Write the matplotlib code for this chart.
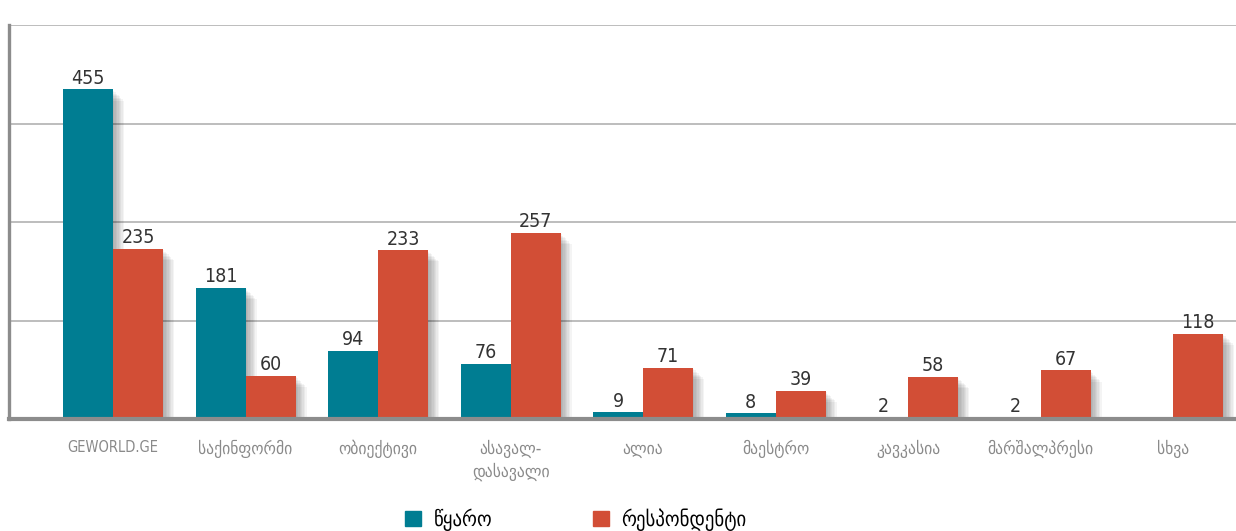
import matplotlib.pyplot as plt
import matplotlib.patheffects as pe
from matplotlib.patches import Patch

# Datos
categories = ['GEWORLD.GE', 'საქინფორმი', 'ობიექტივი', 'ასავალ-\nდასავალი', 'ალია',
              'მაესტრო', 'კავკასია', 'მარშალპრესი', 'სხვა']
source_vals = [455, 181, 94, 76, 9, 8, 2, 2, 0]
respondent_vals = [235, 60, 233, 257, 71, 39, 58, 67, 118]
series_names = ['წყარო', 'რესპონდენტი']

TEAL = '#007d92'
RED = '#d24e36'

plt.rcParams['font.family'] = ['DejaVu Sans']
plt.rcParams['font.stretch'] = 'condensed'

fig = plt.figure(figsize=(12.36, 5.31), dpi=100)
ax = fig.add_axes([0.0069, 0.2109, 0.9931, 0.742])

# sombra suave (varias sombras apiladas)
shadow = [pe.SimplePatchShadow(offset=(d, -d), shadow_rgbFace='black', alpha=0.045)
          for d in (1, 2, 3, 4, 5, 6, 7, 8)] + [pe.Normal()]

w = 0.377
x = list(range(len(categories)))
for i in x:
    if source_vals[i] > 0:
        ax.bar(i - w / 2, source_vals[i], w, color=TEAL, zorder=3, path_effects=shadow)
    ax.bar(i + w / 2, respondent_vals[i], w, color=RED, zorder=3, path_effects=shadow)

# etiquetas de valores
for i in x:
    if source_vals[i] > 0:
        ax.annotate(str(source_vals[i]), (i - w / 2, source_vals[i]), xytext=(0, 4),
                    textcoords='offset points', ha='center', va='baseline',
                    fontsize=14, color='#333333', zorder=5)
    ax.annotate(str(respondent_vals[i]), (i + w / 2, respondent_vals[i]), xytext=(0, 4),
                textcoords='offset points', ha='center', va='baseline',
                fontsize=14, color='#333333', zorder=5)

ax.set_xlim(-0.789, 8.475)
ax.set_ylim(0, 544)
ax.set_yticks([136, 272, 408, 544])
ax.set_yticklabels([])
ax.tick_params(axis='y', length=0)
ax.set_xticks(x)
ax.set_xticklabels(categories, fontsize=12.5, color='#8a8a8a', linespacing=1.3)
ax.get_xticklabels()[0].set_fontsize(10.5)
ax.tick_params(axis='x', length=0, pad=15)

ax.grid(axis='y', color='#b8b8b8', linewidth=1.3, zorder=0)
ax.set_axisbelow(True)
for s in ('top', 'right'):
    ax.spines[s].set_visible(False)
ax.spines['left'].set_color('#8c8c8c')
ax.spines['left'].set_linewidth(2.4)
ax.spines['bottom'].set_color('#8c8c8c')
ax.spines['bottom'].set_linewidth(3)
ax.spines['bottom'].set_zorder(4)

handles = [Patch(color=TEAL), Patch(color=RED)]
fig.legend(handles, series_names, loc='center', bbox_to_anchor=(0.466, 0.022),
           ncol=2, frameon=False, fontsize=15, handlelength=0.77, handleheight=0.77,
           handletextpad=0.6, columnspacing=4.8, borderpad=0)

fig.savefig('out.png', dpi=100)
